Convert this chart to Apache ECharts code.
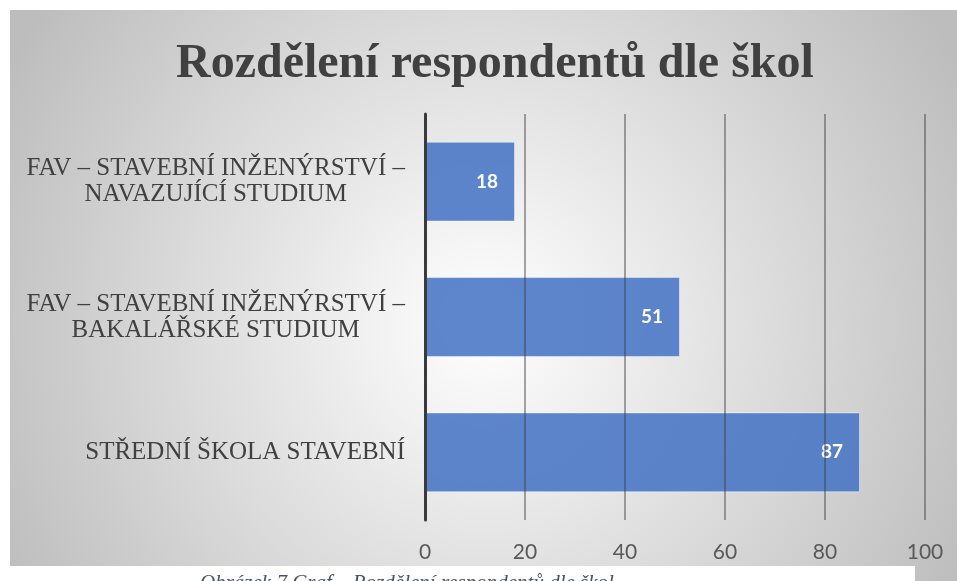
<!DOCTYPE html>
<html>
<head>
<meta charset="utf-8">
<script src="https://cdn.jsdelivr.net/npm/echarts@6/dist/echarts.min.js"></script>
<style>
  html, body { margin: 0; padding: 0; background: #fff; }
  #chart { width: 957px; height: 581px; }
</style>
</head>
<body>
<div id="chart"></div>
<script>
/* Horizontal bar chart: respondents by school. */
const categories = [
  "FAV – STAVEBNÍ INŽENÝRSTVÍ –\nNAVAZUJÍCÍ STUDIUM",
  "FAV – STAVEBNÍ INŽENÝRSTVÍ –\nBAKALÁŘSKÉ STUDIUM",
  "STŘEDNÍ ŠKOLA STAVEBNÍ"
];
const counts = [18, 51, 87];
const axisMax = 100;
const axisStep = 20;
const titleText = "Rozdělení respondentů dle škol";
const captionText = "Obrázek 7 Graf – Rozdělení respondentů dle škol";

(function () {
  "use strict";
  const el = document.getElementById("chart");
  const chart = echarts.init(el, null, { renderer: "canvas" });
  const ink = "#404040";
  const serif = "'Liberation Serif', 'DejaVu Serif', serif";
  const sans = "Lato, 'Open Sans', sans-serif";

  chart.setOption({
    animation: false,
    backgroundColor: "#ffffff",
    graphic: [
      {
        type: "rect", z: -10, silent: true,
        shape: { x: 10, y: 10, width: 947, height: 571 },
        style: {
          fill: new echarts.graphic.RadialGradient(0.5, 0.55, 0.95, [
            { offset: 0, color: "#ffffff" },
            { offset: 1, color: "#bdbdbd" }
          ])
        }
      },
      {
        type: "rect", z: 10, silent: true,
        shape: { x: 0, y: 566, width: 915, height: 15 },
        style: { fill: "#ffffff" }
      },
      {
        type: "text", z: 11, left: 200, top: 573, silent: true,
        style: {
          text: captionText, fill: "#44546a",
          font: "italic 21px " + serif
        }
      }
    ],
    title: {
      text: titleText,
      left: 171, top: 36,
      textStyle: { color: ink, fontFamily: serif, fontWeight: "bold", fontSize: 48 }
    },
    grid: { left: 425, right: 32, top: 114, bottom: 61, containLabel: false },
    xAxis: {
      type: "value", min: 0, max: axisMax, interval: axisStep, z: 3,
      axisLine: { show: false },
      axisTick: { show: false },
      axisLabel: { color: "#595959", fontFamily: sans, fontSize: 21, margin: 22 },
      splitLine: { lineStyle: { color: "rgba(60,60,60,0.45)", width: 2 } }
    },
    yAxis: {
      type: "category", data: categories, inverse: true, z: 4,
      axisLine: { show: true, lineStyle: { color: "#3a3a3a", width: 3 } },
      axisTick: { show: false },
      axisLabel: {
        align: "right", margin: 20,
        formatter: function (v) {
          return v.split("\n").map(function (s) { return "{c|" + s + "}"; }).join("\n");
        },
        rich: {
          c: { align: "center", color: ink, fontFamily: serif, fontSize: 25, lineHeight: 26 }
        }
      }
    },
    series: [{
      type: "bar", data: counts, barCategoryGap: "41%", z: 2,
      itemStyle: {
        color: "rgba(68,114,196,0.86)",
        borderColor: "rgba(255,255,255,0.45)", borderWidth: 1
      },
      label: {
        show: true, position: "insideRight", distance: 17,
        color: "#ffffff", fontFamily: sans, fontWeight: "bold", fontSize: 19
      }
    }]
  });
})();
</script>
</body>
</html>
